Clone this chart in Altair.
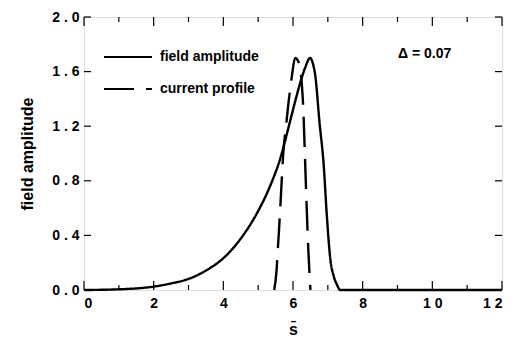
import altair as alt
import pandas as pd

# --- data ---
field_s = [0, 1, 2, 2.5, 3.05, 3.53, 4.0, 4.48, 4.96, 5.34, 5.63, 5.9, 6.05, 6.21,
           6.35, 6.49, 6.57, 6.64, 6.76, 6.88, 6.97, 7.07, 7.17, 7.26, 7.35, 8, 10, 12]
field_a = [0, 0.005, 0.025, 0.048, 0.086, 0.147, 0.233, 0.37, 0.56, 0.76, 0.96, 1.22,
           1.37, 1.52, 1.63, 1.70, 1.66, 1.57, 1.23, 0.92, 0.55, 0.23, 0.1, 0.04, 0.0,
           0, 0, 0]
current_s = [5.46, 5.53, 5.56, 5.61, 5.68, 5.72, 5.8, 5.87, 5.97, 6.06, 6.16, 6.25,
             6.3, 6.34, 6.38, 6.43, 6.5]
current_a = [0, 0.15, 0.28, 0.49, 0.82, 1.0, 1.2, 1.37, 1.57, 1.70, 1.67, 1.52,
             1.3, 1.0, 0.7, 0.35, 0]

series_names = ["field amplitude", "current profile"]
x_major = [0, 2, 4, 6, 8, 10, 12]
x_minor = [1, 3, 5, 7, 9, 11]
y_major = [0.0, 0.4, 0.8, 1.2, 1.6, 2.0]
annotation = "Δ = 0.07"

W, H = 418, 273
FONT = "Liberation Sans"

df = pd.concat([
    pd.DataFrame({"s": field_s, "a": field_a, "series": series_names[0], "order": range(len(field_s))}),
    pd.DataFrame({"s": current_s, "a": current_a, "series": series_names[1], "order": range(len(current_s))}),
])

xscale = alt.Scale(domain=[0, 12], nice=False, zero=False)
yscale = alt.Scale(domain=[0, 2.0], nice=False, zero=False)

x_enc = alt.X("s:Q", scale=xscale,
              axis=alt.Axis(values=x_major, ticks=False, domain=False, grid=False,
                            labelExpr="join(split(toString(datum.value), ''), ' ')",
                            labelFont=FONT, labelFontWeight="bold", labelFontSize=14,
                            labelColor="black", labelPadding=6,
                            title="s\u0304", titleFont=FONT, titleFontWeight="bold",
                            titleFontSize=16, titleColor="black", titlePadding=11))
y_enc = alt.Y("a:Q", scale=yscale,
              axis=alt.Axis(values=y_major, ticks=False, domain=False, grid=False,
                            labelExpr="join(split(format(datum.value, '.1f'), ''), ' ')",
                            labelFont=FONT, labelFontWeight="bold", labelFontSize=14,
                            labelColor="black", labelPadding=5,
                            title="field amplitude", titleFont=FONT, titleFontWeight="bold",
                            titleFontSize=16, titleColor="black", titlePadding=16))

lines = alt.Chart(df).mark_line(color="black", strokeWidth=2.4, interpolate="monotone").encode(
    x=x_enc, y=y_enc, order="order:Q",
    strokeDash=alt.StrokeDash("series:N",
        scale=alt.Scale(domain=series_names, range=[[1, 0], [30, 12]]),
        sort=series_names,
        legend=alt.Legend(orient="none", legendX=19, legendY=15, title=None,
                          symbolType="stroke", symbolSize=2300, symbolStrokeWidth=2,
                          symbolStrokeColor="black", labelFont=FONT, labelFontWeight="bold",
                          labelFontSize=14, labelColor="black", labelOffset=7,
                          rowPadding=0)),
)

xmaj = pd.DataFrame({"t": x_major})
xmin = pd.DataFrame({"t": x_minor})
ymaj = pd.DataFrame({"t": y_major})

def xticks(d, length):
    b = alt.Chart(d).mark_rule(color="black", strokeWidth=1.2).encode(
        x=alt.X("t:Q", scale=xscale), y=alt.value(H), y2=alt.value(H - length))
    t = alt.Chart(d).mark_rule(color="black", strokeWidth=1.2).encode(
        x=alt.X("t:Q", scale=xscale), y=alt.value(0), y2=alt.value(length))
    return b + t

def yticks(d, length):
    l = alt.Chart(d).mark_rule(color="black", strokeWidth=1.2).encode(
        y=alt.Y("t:Q", scale=yscale), x=alt.value(0), x2=alt.value(length))
    r = alt.Chart(d).mark_rule(color="black", strokeWidth=1.2).encode(
        y=alt.Y("t:Q", scale=yscale), x=alt.value(W), x2=alt.value(W - length))
    return l + r

label = alt.Chart(pd.DataFrame({"txt": [annotation]})).mark_text(
    font=FONT, fontWeight="bold", fontSize=14, align="left", baseline="middle", color="black"
).encode(text="txt:N", x=alt.value(314), y=alt.value(37))

chart = alt.layer(
    lines, xticks(xmaj, 9), xticks(xmin, 5), yticks(ymaj, 7), label
).properties(
    width=W, height=H,
    padding={"left": 84, "top": 17, "right": 13, "bottom": 55},
    autosize=alt.AutoSizeParams(type="none"),
).configure_view(stroke="black", strokeWidth=1.6).configure(background="white")

chart.save("out.html", embed_options={"renderer": "svg", "actions": False})
